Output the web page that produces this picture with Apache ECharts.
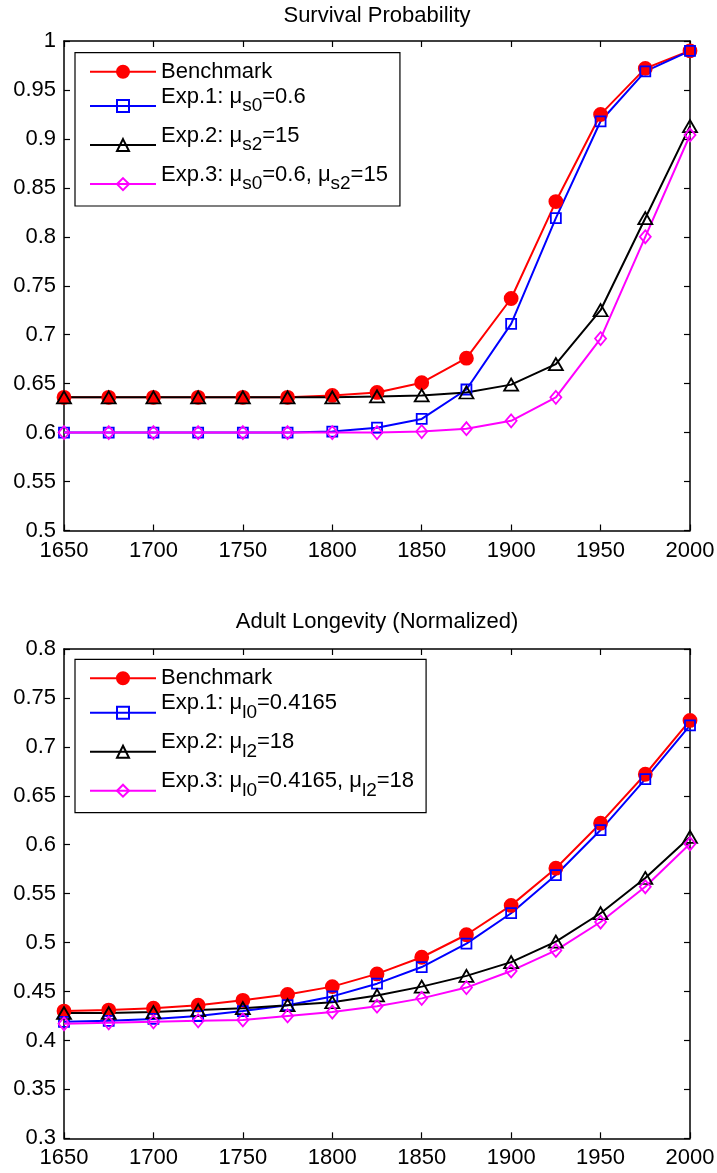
<!DOCTYPE html>
<html>
<head>
<meta charset="utf-8">
<title>Survival Probability / Adult Longevity</title>
<script src="https://cdn.jsdelivr.net/npm/echarts@6/dist/echarts.min.js"></script>
<style>
  html, body { margin: 0; padding: 0; background: #fff; }
  #chart { width: 717px; height: 1173px; }
</style>
</head>
<body>
<div id="chart"></div>
<script>
// data
const years = [1650, 1675, 1700, 1725, 1750, 1775, 1800, 1825, 1850, 1875, 1900, 1925, 1950, 1975, 2000];
const xTicks = [1650, 1700, 1750, 1800, 1850, 1900, 1950, 2000];
const survivalTicks = [0.5, 0.55, 0.6, 0.65, 0.7, 0.75, 0.8, 0.85, 0.9, 0.95, 1];
const longevityTicks = [0.3, 0.35, 0.4, 0.45, 0.5, 0.55, 0.6, 0.65, 0.7, 0.75, 0.8];

// Survival Probability
const survBenchmark = [0.636, 0.636, 0.636, 0.636, 0.636, 0.636, 0.638, 0.641, 0.651, 0.676, 0.737, 0.836, 0.925, 0.972, 0.990];
const survExp1 = [0.600, 0.600, 0.600, 0.600, 0.600, 0.600, 0.601, 0.605, 0.614, 0.644, 0.711, 0.819, 0.918, 0.969, 0.990];
const survExp2 = [0.636, 0.636, 0.636, 0.636, 0.636, 0.636, 0.636, 0.637, 0.638, 0.641, 0.649, 0.670, 0.725, 0.819, 0.913];
const survExp3 = [0.600, 0.600, 0.600, 0.600, 0.600, 0.600, 0.600, 0.600, 0.601, 0.604, 0.612, 0.636, 0.696, 0.800, 0.904];

// Adult Longevity (Normalized)
const longBenchmark = [0.430, 0.431, 0.433, 0.436, 0.441, 0.447, 0.455, 0.468, 0.485, 0.508, 0.538, 0.576, 0.622, 0.672, 0.727];
const longExp1 = [0.419, 0.420, 0.422, 0.425, 0.430, 0.436, 0.445, 0.458, 0.475, 0.499, 0.530, 0.569, 0.615, 0.667, 0.722];
const longExp2 = [0.428, 0.428, 0.429, 0.431, 0.433, 0.436, 0.439, 0.446, 0.455, 0.466, 0.480, 0.501, 0.530, 0.566, 0.608];
const longExp3 = [0.417, 0.418, 0.419, 0.420, 0.421, 0.425, 0.429, 0.435, 0.443, 0.454, 0.471, 0.492, 0.521, 0.557, 0.601];

const survNames = ['Benchmark', 'Exp.1: μs0=0.6', 'Exp.2: μs2=15', 'Exp.3: μs0=0.6, μs2=15'];
const survLabels = ['{b|Benchmark}', '{m|Exp.1: μ}{s|s0}{m|=0.6}', '{m|Exp.2: μ}{s|s2}{m|=15}', '{m|Exp.3: μ}{s|s0}{m|=0.6, μ}{s|s2}{m|=15}'];
const longNames = ['Benchmark', 'Exp.1: μl0=0.4165', 'Exp.2: μl2=18', 'Exp.3: μl0=0.4165, μl2=18'];
const longLabels = ['{b|Benchmark}', '{m|Exp.1: μ}{s|l0}{m|=0.4165}', '{m|Exp.2: μ}{s|l2}{m|=18}', '{m|Exp.3: μ}{s|l0}{m|=0.4165, μ}{s|l2}{m|=18}'];

const FONT = 'Liberation Sans, Arial, Helvetica, sans-serif';

// marker styles: benchmark, exp1, exp2, exp3
const markers = [
  { color: '#ff0000', symbol: 'circle', size: 13, fill: '#ff0000' },
  { color: '#0000ff', symbol: 'rect', size: 10, fill: 'rgba(0,0,0,0)' },
  { color: '#000000', symbol: 'triangle', size: [14, 12], fill: 'rgba(0,0,0,0)' },
  { color: '#ff00ff', symbol: 'diamond', size: [11, 13], fill: 'rgba(0,0,0,0)' }
];

function step(ticks) {
  return Math.round((ticks[1] - ticks[0]) * 1000) / 1000;
}

function makeAxes(kind, ticks, gridIndex) {
  const base = {
    type: 'value',
    gridIndex: gridIndex,
    min: ticks[0],
    max: ticks[ticks.length - 1],
    interval: step(ticks),
    splitLine: { show: false },
    axisLine: { show: true, onZero: false, lineStyle: { color: '#000', width: 1.5 } },
    axisTick: { show: true, inside: true, length: 6, lineStyle: { color: '#000', width: 1.2 } }
  };
  const main = Object.assign({}, base, {
    position: kind === 'x' ? 'bottom' : 'left',
    axisLabel: {
      show: true,
      color: '#000',
      fontSize: 22,
      fontFamily: FONT,
      margin: kind === 'x' ? 9 : 8,
      showMinLabel: true,
      showMaxLabel: true,
      formatter: v => String(Math.round(v * 100) / 100)
    }
  });
  const other = Object.assign({}, base, {
    position: kind === 'x' ? 'top' : 'right',
    axisLabel: { show: false }
  });
  return [main, other];
}

function makeSeries(names, values, axisIndex) {
  return values.map((vals, i) => ({
    type: 'line',
    name: names[i],
    xAxisIndex: axisIndex,
    yAxisIndex: axisIndex,
    data: years.map((yr, k) => [yr, vals[k]]),
    symbol: markers[i].symbol,
    symbolSize: markers[i].size,
    showSymbol: true,
    lineStyle: { color: markers[i].color, width: 2 },
    itemStyle: { color: markers[i].fill, borderColor: markers[i].color, borderWidth: 1.8 },
    emphasis: { disabled: true },
    silent: true
  }));
}

// sub/superscript layout: main text sits high, subscript low, legend line at block centre
function makeLegend(names, labels, top) {
  return {
    orient: 'vertical',
    left: 75,
    top: top,
    padding: [3.3, 12, 1.6, 14],
    itemWidth: 66,
    itemHeight: 15,
    itemGap: -1.6,
    backgroundColor: '#fff',
    borderColor: '#000',
    borderWidth: 1.2,
    selectedMode: false,
    data: names,
    formatter: name => labels[names.indexOf(name)],
    textStyle: {
      color: '#000',
      fontFamily: FONT,
      fontSize: 22,
      rich: {
        b: { fontFamily: FONT, fontSize: 22, color: '#000', lineHeight: 31.4, padding: [4.7, 0, 4.7, 0] },
        m: { fontFamily: FONT, fontSize: 22, color: '#000', lineHeight: 40.6, padding: [0, 0, 18.6, 0] },
        s: { fontFamily: FONT, fontSize: 19, color: '#000', lineHeight: 40.6, padding: [10.8, 0, 10.8, 0] }
      }
    }
  };
}

const survAxesX = makeAxes('x', xTicks, 0);
const survAxesY = makeAxes('y', survivalTicks, 0);
const longAxesX = makeAxes('x', xTicks, 1);
const longAxesY = makeAxes('y', longevityTicks, 1);

const chart = echarts.init(document.getElementById('chart'));
chart.setOption({
  animation: false,
  backgroundColor: '#fff',
  title: [
    { text: 'Survival Probability', left: 372, top: 0, textAlign: 'center',
      textStyle: { fontFamily: FONT, fontSize: 22, fontWeight: 'normal', color: '#000' } },
    { text: 'Adult Longevity (Normalized)', left: 372, top: 606, textAlign: 'center',
      textStyle: { fontFamily: FONT, fontSize: 22, fontWeight: 'normal', color: '#000' } }
  ],
  grid: [
    { left: 64, width: 626, top: 41, height: 489.5, outerBoundsMode: 'none' },
    { left: 64, width: 626, top: 649, height: 489.3, outerBoundsMode: 'none' }
  ],
  xAxis: survAxesX.concat(longAxesX),
  yAxis: survAxesY.concat(longAxesY),
  legend: [
    makeLegend(survNames, survLabels, 52.7),
    makeLegend(longNames, longLabels, 659.3)
  ],
  series: makeSeries(survNames, [survBenchmark, survExp1, survExp2, survExp3], 0)
    .concat(makeSeries(longNames, [longBenchmark, longExp1, longExp2, longExp3], 2))
});
</script>
</body>
</html>
